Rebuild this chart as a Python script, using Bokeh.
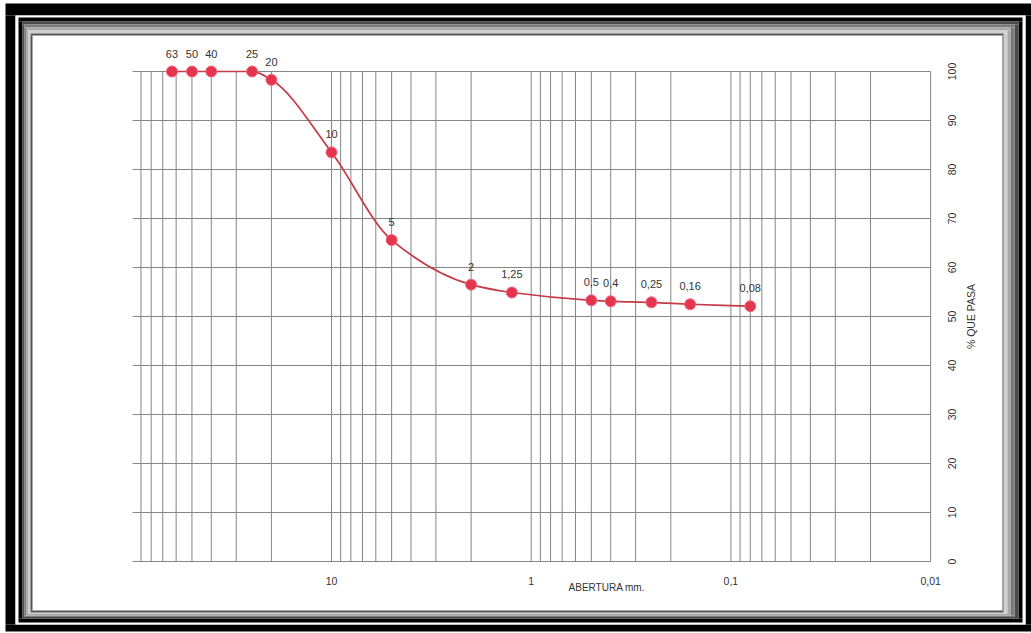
import math
from bokeh.plotting import figure
from bokeh.models import (Range1d, LabelSet, Label, ColumnDataSource, BoxAnnotation)
from bokeh.core.properties import value
from bokeh.embed import file_html
from bokeh.resources import INLINE

# ---------------- data ----------------
sizes = [63, 50, 40, 25, 20, 10, 5, 2, 1.25, 0.5, 0.4, 0.25, 0.16, 0.08]
size_labels = ["63", "50", "40", "25", "20", "10", "5", "2", "1,25",
               "0,5", "0,4", "0,25", "0,16", "0,08"]
passing = [100, 100, 100, 100, 98.3, 83.5, 65.6, 56.5, 54.9,
           53.3, 53.1, 52.9, 52.5, 52.1]
x_ticks = [10, 1, 0.1, 0.01]
x_tick_labels = ["10", "1", "0,1", "0,01"]
y_ticks = [0, 10, 20, 30, 40, 50, 60, 70, 80, 90, 100]
y_tick_labels = ["0", "10", "20", "30", "40", "50", "60", "70", "80", "90", "100"]
x_title = "ABERTURA mm."
y_title = "% QUE PASA"

FONT = "Liberation Sans"
TXT = "#333333"
GRID = "#858585"

W, H = 1031, 633
X_LO, X_HI = 99.0, 0.01          # extent of the printed grid
p = figure(width=W, height=H, x_axis_type="log",
           x_axis_location=None, y_axis_location=None,
           x_range=Range1d(454.6, 0.0031245), y_range=Range1d(-14.694, 114.49),
           output_backend="svg", toolbar_location=None,
           min_border=0, min_border_left=0, min_border_right=0,
           min_border_top=0, min_border_bottom=0)
p.outline_line_color = None
p.border_fill_color = "white"
p.background_fill_color = "white"
p.xgrid.visible = False
p.ygrid.visible = False

# printed log-paper grid
grid_x = [m * 10.0 ** k for k in (-2, -1, 0, 1) for m in range(1, 10)]
p.segment(x0=grid_x, y0=[y_ticks[0]] * len(grid_x), x1=grid_x, y1=[y_ticks[-1]] * len(grid_x),
          line_color=GRID, line_width=1, level="underlay")
p.segment(x0=[X_LO] * len(y_ticks), y0=y_ticks, x1=[X_HI] * len(y_ticks), y1=y_ticks,
          line_color=GRID, line_width=1, level="underlay")

# tick labels
xt_src = ColumnDataSource(dict(x=x_ticks, y=[y_ticks[0]] * len(x_ticks), t=x_tick_labels))
p.add_layout(LabelSet(x="x", y="y", text="t", source=xt_src, y_offset=-20,
                      text_align="center", text_baseline="middle",
                      text_font=value(FONT), text_font_size="10.5px", text_color=TXT))
yt_src = ColumnDataSource(dict(x=[X_HI] * len(y_ticks), y=y_ticks, t=y_tick_labels))
p.add_layout(LabelSet(x="x", y="y", text="t", source=yt_src, x_offset=21, angle=math.pi / 2,
                      text_align="center", text_baseline="middle",
                      text_font=value(FONT), text_font_size="10.5px", text_color=TXT))

# smooth curve (monotone cubic in log space) drawn with bezier segments
u = [-math.log10(s) for s in sizes]
n = len(u)
h = [u[i + 1] - u[i] for i in range(n - 1)]
d = [(passing[i + 1] - passing[i]) / h[i] for i in range(n - 1)]
m = [0.0] * n
m[0] = d[0]
m[-1] = d[-1]
for i in range(1, n - 1):
    if d[i - 1] * d[i] <= 0:
        m[i] = 0.0
    else:
        w1 = 2 * h[i] + h[i - 1]
        w2 = h[i] + 2 * h[i - 1]
        m[i] = (w1 + w2) / (w1 / d[i - 1] + w2 / d[i])
bx0, by0, bx1, by1, cx0, cy0, cx1, cy1 = [], [], [], [], [], [], [], []
for i in range(n - 1):
    bx0.append(sizes[i]); by0.append(passing[i])
    bx1.append(sizes[i + 1]); by1.append(passing[i + 1])
    cx0.append(10 ** (-(u[i] + h[i] / 3))); cy0.append(passing[i] + m[i] * h[i] / 3)
    cx1.append(10 ** (-(u[i + 1] - h[i] / 3))); cy1.append(passing[i + 1] - m[i + 1] * h[i] / 3)
p.bezier(x0=bx0, y0=by0, x1=bx1, y1=by1, cx0=cx0, cy0=cy0, cx1=cx1, cy1=cy1,
         line_color="#c43a47", line_width=1.7)

src = ColumnDataSource(dict(x=sizes, y=passing, t=size_labels))
p.scatter("x", "y", source=src, size=11, fill_color="#e5344d",
          line_color="#ef6a7c", line_width=1)
p.add_layout(LabelSet(x="x", y="y", text="t", source=src, y_offset=18,
                      text_align="center", text_baseline="middle",
                      text_font=value(FONT), text_font_size="11px", text_color=TXT))

p.add_layout(Label(x=0.6503, y=-5.3, text=x_title, text_align="left", text_baseline="middle",
                   text_font=FONT, text_font_size="10px", text_color=TXT))
p.add_layout(Label(x=0.006259, y=50, text=y_title, angle=math.pi / 2,
                   text_align="center", text_baseline="middle",
                   text_font=FONT, text_font_size="10.5px", text_color=TXT))

# decorative picture frame (strips in canvas pixels)
bands = ["#ffffff", "#000000", "#ffffff", "#000000",
         "#4a4a4a", "#7a7a7a", "#a8a8a8", "#d0d0d0", "#555555"]
Lb = [0, 5, 15, 18, 22, 24, 26, 28, 30, 32]
Tb = [0, 3, 15, 17, 21, 24, 27, 30, 33, 35]
Rb = [0, 0, 6, 9, 13, 16.75, 20.5, 24.25, 28, 29]
Bb = [0, 2, 9, 11, 15, 16.5, 18, 19.5, 21, 23]


def strip(l, t, r, b, color):
    if r - l <= 0 or b - t <= 0:
        return
    p.add_layout(BoxAnnotation(left=l, right=r, top=t, bottom=b,
                               left_units="canvas", right_units="canvas",
                               top_units="canvas", bottom_units="canvas",
                               fill_color=color, fill_alpha=1, line_color=None))


for k, c in enumerate(bands):
    ol, il = Lb[k], Lb[k + 1]
    ot, it = Tb[k], Tb[k + 1]
    orr, ir = W - Rb[k], W - Rb[k + 1]
    ob, ib = H - Bb[k], H - Bb[k + 1]
    strip(ol, ot, orr, it, c)      # top
    strip(ol, ib, orr, ob, c)      # bottom
    strip(ol, it, il, ib, c)       # left
    strip(ir, it, orr, ib, c)      # right

open("out.html", "w").write(file_html(p, INLINE))
